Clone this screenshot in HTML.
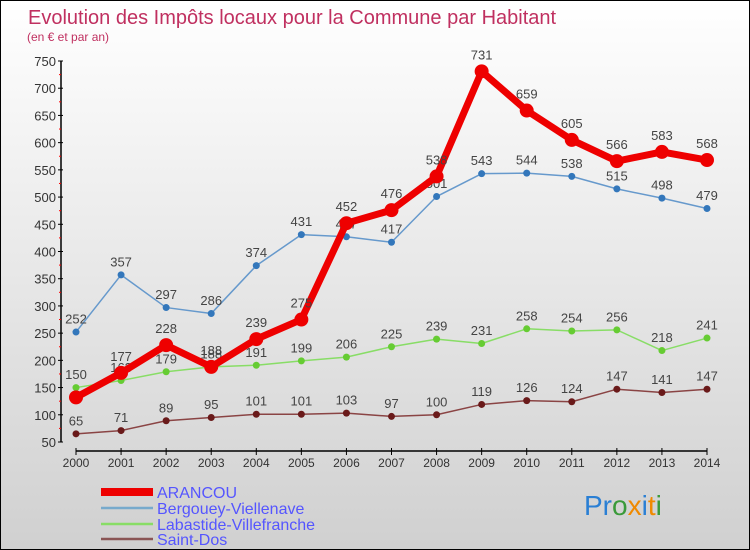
<!DOCTYPE html>
<html><head><meta charset="utf-8"><style>
body{margin:0}
#c{position:relative;width:748px;height:548px;border:1px solid #000;background:linear-gradient(#ffffff,#d0d0d0);font-family:"Liberation Sans",sans-serif;overflow:hidden}
</style></head><body>
<div id="c">
<svg id="s" width="748" height="548" xmlns="http://www.w3.org/2000/svg">
<text x="27" y="23" font-size="20" fill="#c03060">Evolution des Impôts locaux pour la Commune par Habitant</text>
<text x="26" y="40" font-size="12" fill="#c03060">(en € et par an)</text>
<g font-size="28">
<text x="583" y="514"><tspan fill="#2a7fd4">Pr</tspan><tspan fill="#3a9a3a">o</tspan><tspan fill="#f08a00">x</tspan><tspan fill="#2a7fd4">i</tspan><tspan fill="#f08a00">t</tspan><tspan fill="#3a9a3a">i</tspan></text>
</g>
</svg>
</div>
<script>
const years=[2000,2001,2002,2003,2004,2005,2006,2007,2008,2009,2010,2011,2012,2013,2014];
const yTicks=[50,100,150,200,250,300,350,400,450,500,550,600,650,700,750];
const arancou=[132,177,228,188,239,275,452,476,538,731,659,605,566,583,568];
const bergouey=[252,357,297,286,374,431,427,417,501,543,544,538,515,498,479];
const labastide=[150,163,179,188,191,199,206,225,239,231,258,254,256,218,241];
const saintDos=[65,71,89,95,101,101,103,97,100,119,126,124,147,141,147];
const seriesNames=["ARANCOU","Bergouey-Viellenave","Labastide-Villefranche","Saint-Dos"];
const svg=document.getElementById('s');const NS='http://www.w3.org/2000/svg';
function X(i){return 75+i*(706-75)/14;}
function Y(v){return 441-(v-50)*(441-60)/700;}
function el(t,a,p){const e=document.createElementNS(NS,t);for(const k in a)e.setAttribute(k,a[k]);(p||svg).appendChild(e);return e;}
const ya=el('line',{x1:60,y1:60,x2:60,y2:441,stroke:'#000','stroke-width':1.5});


yTicks.forEach(v=>{el('line',{x1:57,y1:Y(v),x2:62,y2:Y(v),stroke:'#000'});
const t=el('text',{x:55,y:Y(v)+5,'font-size':13,fill:'#333','text-anchor':'end'});t.textContent=v;


if(v<750)el('line',{x1:58,y1:Y(v+25),x2:60,y2:Y(v+25),stroke:'#f00'});});
const xa=el('line',{x1:75,y1:450,x2:706,y2:450,stroke:'#000','stroke-width':1.5});


years.forEach((y,i)=>{el('line',{x1:X(i),y1:447,x2:X(i),y2:454,stroke:'#000'});
const t=el('text',{x:X(i),y:466,'font-size':12,fill:'#333','text-anchor':'middle'});t.textContent=y;

});
function series(data,color,dot,w,r,name,skipFirst){
const g=el('g',{});


el('polyline',{points:data.map((v,i)=>X(i)+','+Y(v)).join(' '),fill:'none',stroke:color,'stroke-width':w,'stroke-linejoin':'round'},g);
data.forEach((v,i)=>{const c=el('circle',{cx:X(i),cy:Y(v),r:r,fill:dot},g);


if(skipFirst&&i===0)return;
const t=el('text',{x:X(i),y:Y(v)-(r+5),'font-size':13,fill:'#444','text-anchor':'middle'},g);t.textContent=v;

});}
series(saintDos,'#8a4444','#6a1a1a',1.5,3.5,'series-saint-dos',false);
series(labastide,'#88dd66','#66cc33',1.5,3.5,'series-labastide',false);
series(bergouey,'#6699cc','#3377bb',1.5,3.5,'series-bergouey',false);
series(arancou,'#ee0000','#ee0000',7,7,'series-arancou',true);
const lc=['#ee0000','#77aacc','#88dd66','#8a5555'],lw=[8,2.5,2.5,2.5],ly=[491,507,523,538];
seriesNames.forEach((n,i)=>{const g=el('g',{});


el('line',{x1:100,y1:ly[i],x2:152,y2:ly[i],stroke:lc[i],'stroke-width':lw[i]},g);
const t=el('text',{x:156,y:ly[i]+6,'font-size':16,fill:'#5555ff'},g);t.textContent=n;});
</script>
</body></html>
